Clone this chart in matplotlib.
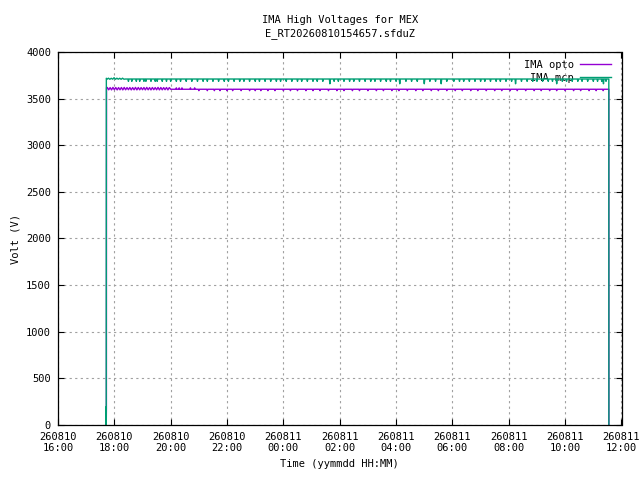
import pandas as pd
import numpy as np
import matplotlib
matplotlib.use("Agg")
import matplotlib.pyplot as plt
import matplotlib.dates as mdates

# hours after 260810 00:00
day0 = pd.Timestamp("2026-08-10 00:00")

# IMA opto: switch-on edge, noisy start, plateau, switch-off
opto_edge_h = [17.715, 17.718, 17.722]
opto_edge_v = [64, 179, 3620]
opto_start_h = np.arange(17.75, 20.06, 0.05)  # sample times of the noisy start
opto_start_v = [3622, 3597, 3621, 3596, 3623, 3598, 3622, 3596, 3621, 3597,
                3622, 3596, 3623, 3597, 3621, 3598, 3622, 3596, 3621, 3597,
                3623, 3596, 3622, 3597, 3621, 3598, 3622, 3596, 3623, 3597,
                3621, 3596, 3622, 3598, 3621, 3597, 3623, 3596, 3622, 3597,
                3621, 3598, 3622, 3596, 3621, 3603, 3603]
opto_level = 3603
opto_dip_h = [21.00, 21.30, 21.55, 21.75, 22.00, 22.20, 22.50, 22.80, 23.00, 23.20,
              23.45, 23.70, 24.00, 24.25, 24.50, 24.80, 25.05, 25.30, 25.60, 25.90,
              26.15, 26.45, 26.70, 27.00, 27.30, 27.55, 27.85, 28.10, 28.40, 28.70,
              28.95, 29.25, 29.50, 29.80, 30.10, 30.35, 30.65, 30.90, 31.20, 31.50,
              31.75, 32.05, 32.30, 32.60, 32.90, 33.15, 33.45, 33.70, 34.00, 34.30,
              34.55, 34.85, 35.10, 35.35]
opto_dip_v = 3588
opto_bump_h = [20.20, 20.30, 20.40, 20.70, 20.85]
opto_bump_v = 3618
opto_end_h = [35.55, 35.552]
opto_end_v = [3603, 0]

# IMA mcp
mcp_edge_h = [17.700, 17.706, 17.712, 17.716]
mcp_edge_v = [0, 192, 0, 3721]
mcp_start_h = np.arange(17.74, 18.43, 0.05)
mcp_start_v = [3711, 3722, 3710, 3721, 3711, 3727, 3710, 3722, 3711, 3721,
               3710, 3722, 3711, 3713]
mcp_level = 3713
mcp_dip_h = [18.50, 18.62, 18.78, 18.90, 19.05, 19.12, 19.30, 19.45, 19.52, 19.70,
             19.85, 20.00, 20.20, 20.35, 20.55, 20.75, 20.95, 21.15, 21.30, 21.50,
             21.70, 21.90, 22.05, 22.25, 22.45, 22.60, 22.80, 23.00, 23.15, 23.35,
             23.55, 23.75, 23.90, 24.10, 24.30, 24.50, 24.65, 24.85, 25.05, 25.20,
             25.40, 25.80, 25.95, 26.15, 26.35, 26.50, 26.70, 26.90, 27.10, 27.25,
             27.45, 27.65, 27.80, 28.00, 28.35, 28.55, 28.75, 29.20, 29.40, 29.80,
             30.05, 30.25, 30.40, 30.60, 30.80, 31.00, 31.15, 31.35, 31.55, 31.70,
             31.90, 32.10, 32.45, 32.65, 32.85, 33.00, 33.20, 33.40, 33.55, 33.90,
             34.05, 34.25, 34.45, 34.60, 34.80, 35.00, 35.15, 35.30, 35.45]
mcp_dip_v = 3688
mcp_deep_h = [25.65, 28.13, 29.00, 29.60, 32.24, 33.70, 35.36]
mcp_deep_v = 3662
mcp_end_h = [35.55, 35.552]
mcp_end_v = [3713, 0]


def build(edge_h, edge_v, start_h, start_v, level, dips, end_h, end_v):
    pts = list(zip(edge_h, edge_v)) + list(zip(start_h, start_v))
    for h, v in dips:
        pts += [(h - 0.018, level), (h, v), (h + 0.018, level)]
    pts += list(zip(end_h, end_v))
    pts.sort(key=lambda p: p[0])
    t = day0 + pd.to_timedelta([p[0] for p in pts], unit="h")
    return t, [p[1] for p in pts]


opto_dips = [(h, opto_dip_v) for h in opto_dip_h] + [(h, opto_bump_v) for h in opto_bump_h]
mcp_dips = [(h, mcp_dip_v) for h in mcp_dip_h] + [(h, mcp_deep_v) for h in mcp_deep_h]

opto_t, opto_v = build(opto_edge_h, opto_edge_v, opto_start_h, opto_start_v,
                       opto_level, opto_dips, opto_end_h, opto_end_v)
mcp_t, mcp_v = build(mcp_edge_h, mcp_edge_v, mcp_start_h, mcp_start_v,
                     mcp_level, mcp_dips, mcp_end_h, mcp_end_v)

plt.rcParams['font.family'] = ['DejaVu Sans Mono']
plt.rcParams['font.size'] = 7.5

fig = plt.figure(figsize=(6.4, 4.8), dpi=100)
ax = fig.add_axes([58 / 640, 1 - 424.7 / 480, (621.5 - 58) / 640, (424.7 - 52.3) / 480])

ax.plot(opto_t, opto_v, color='#9400d3', lw=1.0, label='IMA opto')
ax.plot(mcp_t, mcp_v, color='#009e73', lw=1.0, label='IMA mcp')

ax.set_xlim(pd.Timestamp("2026-08-10 16:00"), pd.Timestamp("2026-08-11 12:00"))
ax.set_ylim(0, 4000)
ax.set_yticks(np.arange(0, 4001, 500))
ax.xaxis.set_major_locator(mdates.HourLocator(interval=2))
ax.xaxis.set_major_formatter(mdates.DateFormatter("%y%m%d\n%H:%M"))
ax.tick_params(direction='in', length=4.5, width=0.8, top=True, right=True, pad=5)
ax.grid(True, color='#a0a0a0', linestyle=(0, (2, 3)), lw=0.8)
for s in ax.spines.values():
    s.set_linewidth(0.9)

ax.set_xlabel("Time (yymmdd HH:MM)", labelpad=4)
ax.set_ylabel("Volt (V)", labelpad=4)
ax.set_title("IMA High Voltages for MEX\nE_RT20260810154657.sfduZ", fontsize=7.5, pad=12,
             linespacing=1.3)

leg = ax.legend(loc='upper right', frameon=False, markerfirst=False, handlelength=3.0,
                handletextpad=0.6, borderaxespad=0.3, labelspacing=0.3,
                bbox_to_anchor=(0.995, 1.0))
leg.set_zorder(1)

fig.savefig("out.png", dpi=100)
